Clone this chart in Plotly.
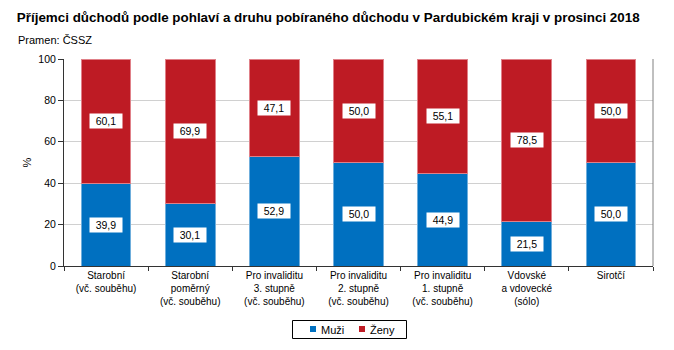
import plotly.graph_objects as go

categories = [
    "Starobní<br>(vč. souběhu)",
    "Starobní<br>poměrný<br>(vč. souběhu)",
    "Pro invaliditu<br>3. stupně<br>(vč. souběhu)",
    "Pro invaliditu<br>2. stupně<br>(vč. souběhu)",
    "Pro invaliditu<br>1. stupně<br>(vč. souběhu)",
    "Vdovské<br>a vdovecké<br>(sólo)",
    "Sirotčí",
]
muzi = [39.9, 30.1, 52.9, 50.0, 44.9, 21.5, 50.0]
zeny = [60.1, 69.9, 47.1, 50.0, 55.1, 78.5, 50.0]
y_ticks = [0, 20, 40, 60, 80, 100]
series_names = ["Muži", "Ženy"]

BLUE = "#0070C0"
RED = "#BE1B24"
FONT = "Liberation Sans, Arial, sans-serif"

fig = go.Figure()
fig.add_trace(go.Bar(x=categories, y=muzi, name=series_names[0], showlegend=False,
                     marker=dict(color=BLUE, line=dict(color="#6FAEDC", width=1))))
fig.add_trace(go.Bar(x=categories, y=zeny, name=series_names[1], showlegend=False,
                     marker=dict(color=RED, line=dict(color="#E08088", width=1))))

def fmt(v):
    return f"{v:.1f}".replace(".", ",")

for c, m, z in zip(categories, muzi, zeny):
    for val, base in ((m, 0), (z, m)):
        fig.add_annotation(x=c, y=base + val / 2, text=fmt(val), showarrow=False,
                           bgcolor="white", borderpad=1,
                           font=dict(family=FONT, size=10.5, color="black"),
                           width=30)

fig.add_annotation(xref="paper", yref="paper", x=-0.081, y=1.13, xanchor="left",
                   yanchor="top", text="Pramen: ČSSZ", showarrow=False,
                   font=dict(family=FONT, size=11, color="black"))

# compact legend box (paper coords relative to the plot area)
PW, PH, X0, Y0 = 589.0, 207.0, 64.0, 266.0
def px(x):
    return (x - X0) / PW
def py(y):
    return (Y0 - y) / PH

fig.add_shape(type="rect", xref="paper", yref="paper",
              x0=px(292.5), x1=px(406.5), y0=py(320.5), y1=py(338.5),
              line=dict(color="black", width=1), fillcolor="white")
for name, col, sx in ((series_names[0], BLUE, 310), (series_names[1], RED, 359)):
    fig.add_shape(type="rect", xref="paper", yref="paper",
                  x0=px(sx), x1=px(sx + 6), y0=py(326), y1=py(332),
                  line=dict(width=0), fillcolor=col)
    fig.add_annotation(xref="paper", yref="paper", x=px(sx + 9), y=py(329.5),
                       xanchor="left", yanchor="middle", text=name, showarrow=False,
                       font=dict(family=FONT, size=11, color="black"))

fig.update_layout(
    width=674, height=350,
    margin=dict(l=64, r=21, t=59, b=84, autoexpand=False),
    paper_bgcolor="white", plot_bgcolor="white",
    barmode="stack", bargap=0.41,
    title=dict(text="<b>Příjemci důchodů podle pohlaví a druhu pobíraného důchodu v Pardubickém kraji v prosinci 2018</b>",
               x=0.025, xanchor="left", y=0.965, yanchor="top",
               font=dict(family=FONT, size=13.4, color="black")),
    font=dict(family=FONT, size=10, color="black"),
    showlegend=False,
    xaxis=dict(showline=True, linecolor="#333333", linewidth=1, ticks="outside",
               tickson="boundaries", ticklen=4, tickcolor="#333333",
               mirror=False, tickfont=dict(size=10)),
    yaxis=dict(range=[0, 100], tickvals=y_ticks, showgrid=True, gridcolor="#D0D0D0",
               showline=True, linecolor="#333333", linewidth=1, ticks="outside",
               ticklen=5, tickcolor="#333333", zeroline=False,
               title=dict(text="%", standoff=4, font=dict(size=11)),
               tickfont=dict(size=10.5)),
)
fig.add_shape(type="line", xref="paper", yref="paper", x0=1, x1=1, y0=0, y1=1,
              line=dict(color="#808080", width=1))

fig.write_html("out.html")
